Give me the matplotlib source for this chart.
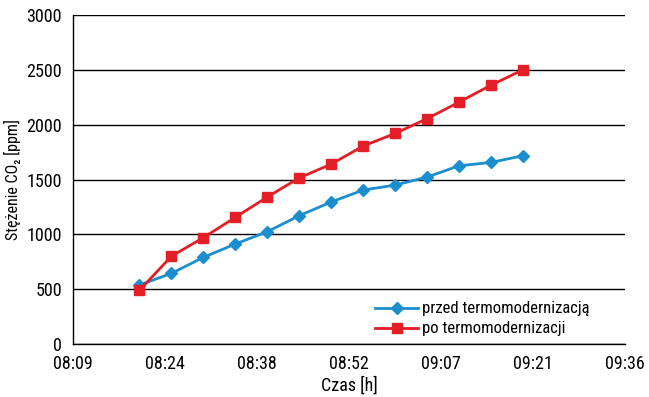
import matplotlib
matplotlib.use('Agg')
import matplotlib.pyplot as plt
import numpy as np

plt.rcParams['font.family'] = ['Roboto Condensed', 'Liberation Sans', 'DejaVu Sans']

# measurement times
times = ['08:20', '08:25', '08:30', '08:35', '08:40', '08:45', '08:50',
         '08:55', '09:00', '09:05', '09:10', '09:15', '09:20']
before = [538, 644, 790, 912, 1024, 1170, 1295, 1404, 1449, 1522, 1625, 1656, 1717]
after = [490, 800, 970, 1155, 1340, 1515, 1640, 1805, 1920, 2055, 2205, 2360, 2500]
labels = ['przed termomodernizacją', 'po termomodernizacji']

def to_min(t):
    h, m = t.split(':')
    return int(h) * 60 + int(m)

x = [to_min(t) for t in times]

# excel-like time axis: 0.34 .. 0.40 day, step 0.01 day
xticks = np.arange(0.34, 0.4001, 0.01) * 1440
def fmt(v):
    v = int(np.floor(v + 1e-6))
    return '%02d:%02d' % (v // 60, v % 60)

fig = plt.figure(figsize=(6.49, 3.97), dpi=100)
ax = fig.add_axes([0.1125, 0.1335, 0.8505, 0.8285])

ax.plot(x, before, color='#1b8ed0', lw=2.0, marker='D', ms=6, label=labels[0], zorder=3)
ax.plot(x, after, color='#e31e26', lw=2.0, marker='s', ms=6.5, label=labels[1], zorder=3)

ax.set_xlim(xticks[0], xticks[-1])
ax.set_ylim(0, 3000)
ax.set_xticks(xticks)
ax.set_xticklabels([fmt(v) for v in xticks])
ax.set_yticks(range(0, 3001, 500))
ax.yaxis.grid(True, color='black', lw=1)
ax.set_axisbelow(True)
ax.tick_params(length=0, labelsize=13)
ax.tick_params(axis='x', pad=8)
ax.tick_params(axis='y', pad=8)
for s in ['top', 'right']:
    ax.spines[s].set_visible(False)
ax.spines['left'].set_linewidth(1)
ax.spines['bottom'].set_linewidth(1)

ax.set_xlabel('Czas [h]', fontsize=13, labelpad=2)
ax.set_ylabel('Stężenie CO₂ [ppm]', fontsize=11.5)
ax.yaxis.set_label_coords(-0.094, 0.5)

leg = ax.legend(loc='lower right', bbox_to_anchor=(0.955, -0.01), frameon=True,
                fontsize=12, handlelength=2.6, handletextpad=0.2, labelspacing=0.3,
                borderpad=0.15)
leg.get_frame().set_edgecolor('none')
leg.get_frame().set_facecolor('white')
leg.get_frame().set_alpha(1)

fig.savefig('out.png', dpi=100)
